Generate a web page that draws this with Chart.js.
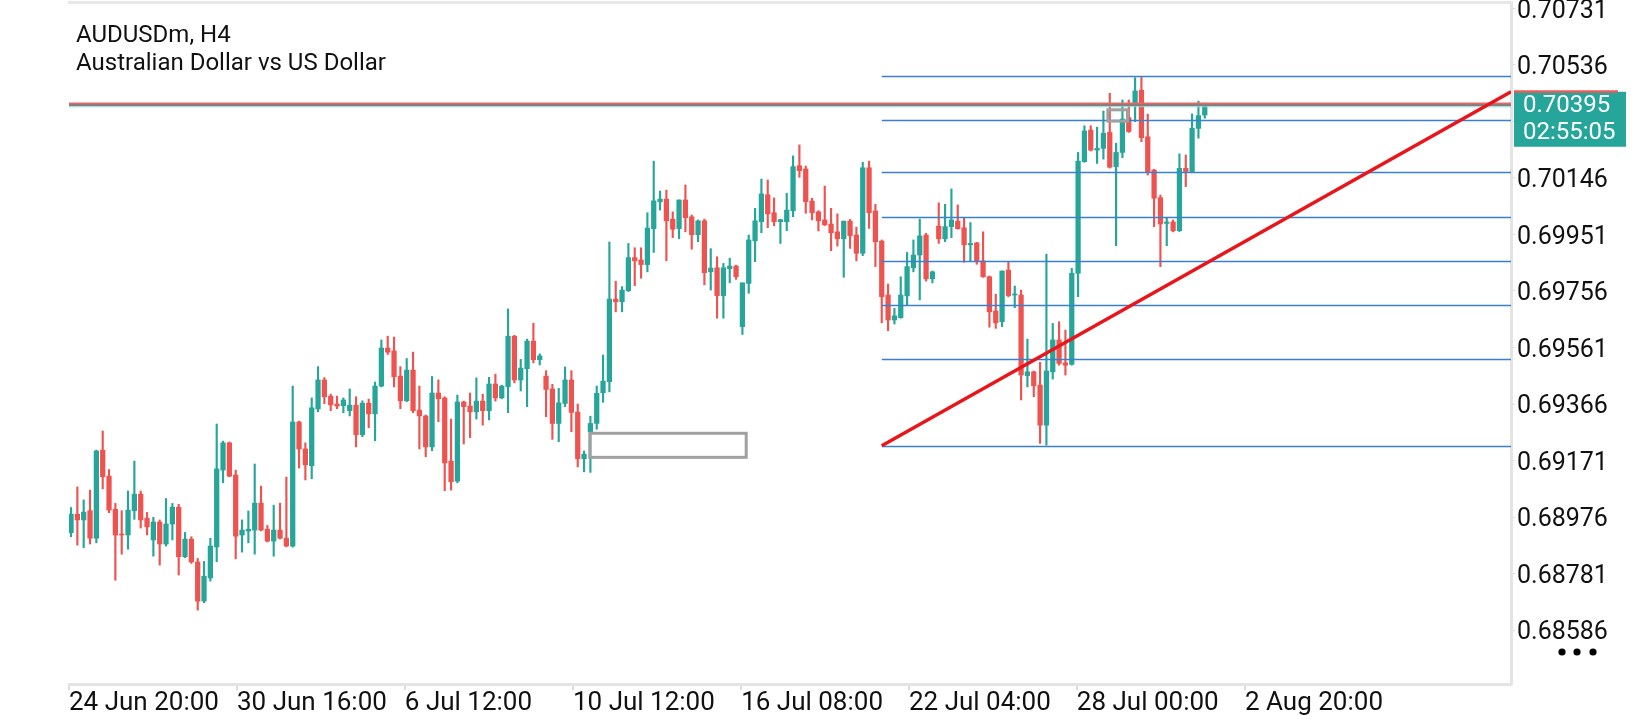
<!DOCTYPE html>
<html>
<head>
<meta charset="utf-8">
<title>AUDUSDm, H4</title>
<script src="https://cdn.jsdelivr.net/npm/chart.js@4.4.1/dist/chart.umd.min.js"></script>
<style>
  html, body { margin: 0; padding: 0; background: #fff; }
  #wrap { position: relative; width: 1640px; height: 720px; }
</style>
</head>
<body>
<div id="wrap"><canvas id="audChart"></canvas></div>
<script>
// AUDUSDm H4 candles (oldest first)
const open = [
  0.68922,0.68986,0.68966,0.68998,0.68903,0.69207,0.69117,0.69003,0.68916,0.68914,
  0.68998,0.69055,0.68972,0.68897,0.68959,0.68883,0.68952,0.69010,0.68839,0.68900,
  0.68821,0.68686,0.68766,0.68873,0.69138,0.69232,0.69121,0.68914,0.68928,0.68931,
  0.69024,0.68934,0.68893,0.68931,0.68903,0.68876,0.69304,0.69211,0.69153,0.69349,
  0.69449,0.69393,0.69366,0.69360,0.69343,0.69362,0.69260,0.69369,0.69332,0.69428,
  0.69559,0.69549,0.69462,0.69377,0.69483,0.69345,0.69325,0.69218,0.69404,0.69387,
  0.69169,0.69100,0.69373,0.69359,0.69339,0.69376,0.69343,0.69435,0.69387,0.69426,
  0.69600,0.69449,0.69488,0.69583,0.69519,0.69462,0.69418,0.69299,0.69368,0.69449,
  0.69338,0.69177,0.69270,0.69299,0.69405,0.69443,0.69728,0.69719,0.69757,0.69871,
  0.69863,0.69847,0.69971,0.70064,0.70073,0.70004,0.69971,0.70070,0.70012,0.69950,
  0.69998,0.69822,0.69836,0.69740,0.69833,0.69842,0.69633,0.69782,0.69929,0.69995,
  0.70088,0.70026,0.69995,0.69995,0.70033,0.70188,0.70177,0.70066,0.70029,0.70001,
  0.69987,0.69960,0.69936,0.69997,0.69949,0.69886,0.70181,0.70032,0.69928,0.69742,
  0.69656,0.69664,0.69739,0.69836,0.69880,0.69949,0.69798,0.69980,0.69936,0.69978,
  0.69997,0.69974,0.69915,0.69922,0.69860,0.69805,0.69687,0.69650,0.69828,0.69742,
  0.69742,0.69464,0.69477,0.69431,0.69293,0.69477,0.69587,0.69508,0.69503,0.69817,
  0.70202,0.70311,0.70242,0.70248,0.70303,0.70185,0.70234,0.70354,0.70404,0.70449,
  0.70288,0.70173,0.70078,0.69989,0.69994,0.69964,0.70179,0.70168,0.70317,0.70363
];
const high = [
  0.69009,0.69080,0.69035,0.69069,0.69207,0.69273,0.69140,0.69023,0.68998,0.69066,
  0.69169,0.69066,0.68992,0.68975,0.68966,0.69040,0.69023,0.69020,0.68923,0.68908,
  0.68833,0.68823,0.68903,0.69297,0.69238,0.69235,0.69138,0.68966,0.68997,0.69159,
  0.69083,0.68947,0.69017,0.69024,0.69114,0.69428,0.69307,0.69232,0.69387,0.69495,
  0.69457,0.69400,0.69393,0.69387,0.69418,0.69391,0.69377,0.69383,0.69442,0.69587,
  0.69600,0.69597,0.69495,0.69523,0.69545,0.69428,0.69328,0.69461,0.69449,0.69391,
  0.69314,0.69397,0.69376,0.69404,0.69456,0.69400,0.69458,0.69469,0.69431,0.69694,
  0.69603,0.69520,0.69590,0.69645,0.69539,0.69481,0.69434,0.69420,0.69494,0.69481,
  0.69366,0.69204,0.69324,0.69428,0.69535,0.69925,0.69790,0.69771,0.69920,0.69905,
  0.69905,0.70026,0.70204,0.70101,0.70104,0.70029,0.70070,0.70122,0.70018,0.70001,
  0.70004,0.69902,0.69874,0.69851,0.69869,0.69845,0.69784,0.69949,0.70041,0.70142,
  0.70139,0.70077,0.70004,0.70093,0.70222,0.70260,0.70187,0.70076,0.70033,0.70118,
  0.70041,0.70022,0.69997,0.70003,0.69976,0.70200,0.70204,0.70055,0.69932,0.69780,
  0.69696,0.69805,0.69889,0.69932,0.70004,0.69955,0.69825,0.70060,0.70055,0.70108,
  0.70053,0.70009,0.69992,0.69924,0.69960,0.69808,0.69745,0.69825,0.69857,0.69773,
  0.69759,0.69590,0.69480,0.69510,0.69883,0.69644,0.69650,0.69621,0.69834,0.70234,
  0.70326,0.70326,0.70321,0.70377,0.70438,0.70266,0.70415,0.70415,0.70492,0.70495,
  0.70366,0.70176,0.70087,0.70009,0.70001,0.70229,0.70225,0.70367,0.70411,0.70404
];
const low = [
  0.68908,0.68879,0.68870,0.68883,0.68887,0.69073,0.68991,0.68758,0.68848,0.68865,
  0.68968,0.68938,0.68914,0.68841,0.68810,0.68876,0.68897,0.68776,0.68836,0.68816,
  0.68655,0.68680,0.68755,0.68822,0.69094,0.69115,0.68832,0.68855,0.68887,0.68848,
  0.68928,0.68890,0.68841,0.68900,0.68873,0.68872,0.69145,0.69104,0.69108,0.69339,
  0.69367,0.69343,0.69350,0.69336,0.69325,0.69218,0.69253,0.69284,0.69239,0.69425,
  0.69537,0.69425,0.69350,0.69374,0.69336,0.69211,0.69184,0.69205,0.69305,0.69067,
  0.69069,0.69094,0.69228,0.69250,0.69314,0.69293,0.69311,0.69376,0.69384,0.69336,
  0.69439,0.69411,0.69357,0.69508,0.69501,0.69322,0.69244,0.69236,0.69357,0.69270,
  0.69149,0.69132,0.69130,0.69279,0.69372,0.69408,0.69684,0.69684,0.69754,0.69774,
  0.69800,0.69822,0.69889,0.70035,0.69860,0.69940,0.69936,0.69960,0.69900,0.69926,
  0.69777,0.69759,0.69662,0.69662,0.69784,0.69796,0.69606,0.69748,0.69857,0.69957,
  0.69974,0.69981,0.69920,0.69964,0.70012,0.70148,0.70024,0.70001,0.69963,0.69982,
  0.69895,0.69911,0.69803,0.69903,0.69860,0.69878,0.69972,0.69840,0.69646,0.69619,
  0.69642,0.69662,0.69707,0.69822,0.69725,0.69790,0.69784,0.69920,0.69926,0.69940,
  0.69969,0.69855,0.69860,0.69848,0.69803,0.69631,0.69627,0.69633,0.69736,0.69698,
  0.69380,0.69425,0.69391,0.69230,0.69224,0.69452,0.69500,0.69466,0.69500,0.69736,
  0.70200,0.70239,0.70196,0.70211,0.70180,0.69912,0.70216,0.70303,0.70340,0.70271,
  0.70156,0.69978,0.69840,0.69912,0.69960,0.69961,0.70116,0.70165,0.70283,0.70352
];
const close = [
  0.68986,0.68966,0.68993,0.68903,0.69204,0.69115,0.69000,0.68914,0.68914,0.69000,
  0.69055,0.68966,0.68942,0.68959,0.68883,0.68952,0.69010,0.68839,0.68900,0.68821,
  0.68686,0.68772,0.68876,0.69142,0.69232,0.69117,0.68910,0.68931,0.68934,0.69024,
  0.68931,0.68893,0.68931,0.68903,0.68876,0.69304,0.69211,0.69156,0.69353,0.69449,
  0.69391,0.69363,0.69359,0.69380,0.69362,0.69260,0.69369,0.69332,0.69428,0.69559,
  0.69545,0.69460,0.69377,0.69483,0.69343,0.69325,0.69218,0.69404,0.69384,0.69163,
  0.69098,0.69373,0.69357,0.69339,0.69376,0.69343,0.69435,0.69387,0.69428,0.69600,
  0.69449,0.69490,0.69583,0.69519,0.69532,0.69416,0.69299,0.69370,0.69449,0.69337,
  0.69177,0.69193,0.69299,0.69403,0.69445,0.69728,0.69719,0.69759,0.69871,0.69860,
  0.69847,0.69973,0.70067,0.70073,0.69998,0.69969,0.70070,0.70009,0.69950,0.69998,
  0.69819,0.69835,0.69740,0.69836,0.69842,0.69805,0.69784,0.69932,0.69998,0.70091,
  0.70022,0.69995,0.70002,0.70035,0.70185,0.70171,0.70064,0.70026,0.69998,0.69984,
  0.69957,0.69936,0.69997,0.69947,0.69886,0.70181,0.70026,0.69926,0.69736,0.69656,
  0.69670,0.69742,0.69840,0.69880,0.69946,0.69798,0.69822,0.69936,0.69978,0.70001,
  0.69971,0.69915,0.69920,0.69860,0.69805,0.69684,0.69646,0.69825,0.69740,0.69742,
  0.69466,0.69477,0.69429,0.69293,0.69480,0.69587,0.69506,0.69500,0.69817,0.70204,
  0.70308,0.70242,0.70248,0.70300,0.70183,0.70234,0.70349,0.70306,0.70446,0.70285,
  0.70165,0.70076,0.69987,0.69994,0.69964,0.70179,0.70168,0.70317,0.70361,0.70395
];

// time axis: bar index of each label and its text
const xTickPos = [-0.32, 26.2, 52.7, 79.25, 105.8, 132.3, 158.8, 185.35];
const xTickLabels = ['24 Jun 20:00', '30 Jun 16:00', '6 Jul 12:00', '10 Jul 12:00',
                     '16 Jul 08:00', '22 Jul 04:00', '28 Jul 00:00', '2 Aug 20:00'];
const xMin = -0.32, xMax = 227.35;

// price axis
const yTicks = [0.68586, 0.68781, 0.68976, 0.69171, 0.69366, 0.69561,
                0.69756, 0.69951, 0.70146, 0.70341, 0.70536, 0.70731];
const yMin = 0.68400, yMax = 0.70753;

// objects on the chart
const fibStart = 128;
const fibLevels = [0.70498, 0.70346, 0.70166, 0.70010, 0.69860, 0.69708, 0.69521, 0.69222];
const trendFrom = [128, 0.69222];
const trendTo = [227.35, 0.70443];
const boxes = [[81.9, 106.6, 0.69265, 0.69182], [163.7, 166.8, 0.70381, 0.70342]]; // x0, x1, top, bottom
const lastPrice = 0.70395;
const countdown = '02:55:05';
const symbolTitle = 'AUDUSDm, H4';
const symbolName = 'Australian Dollar vs US Dollar';

const upColor = '#26a69a';
const downColor = '#ef5350';

const idx = open.map((_, i) => i);
const candleColor = idx.map(i => close[i] >= open[i] ? upColor : downColor);

const overlays = {
  id: 'overlays',
  beforeDraw(chart) {
    // price labels sit a touch lower than Chart.js puts them
    chart.scales.y.getLabelItems().forEach(it => { it.options.translation[1] += 3; });
  },
  afterDatasetsDraw(chart) {
    const { ctx, chartArea: a, scales: { x, y } } = chart;
    ctx.save();
    ctx.beginPath();
    ctx.rect(a.left, a.top, a.right - a.left, a.bottom - a.top);
    ctx.clip();

    // current price lines
    const py = y.getPixelForValue(lastPrice);
    ctx.lineWidth = 1.5; ctx.strokeStyle = '#e06a6a';
    ctx.beginPath(); ctx.moveTo(a.left, py - 2.5); ctx.lineTo(a.right, py - 2.5); ctx.stroke();
    ctx.lineWidth = 2; ctx.strokeStyle = '#8c7c7c';
    ctx.beginPath(); ctx.moveTo(a.left, py - 0.8); ctx.lineTo(a.right, py - 0.8); ctx.stroke();
    ctx.lineWidth = 1; ctx.strokeStyle = '#8fd3cc';
    ctx.beginPath(); ctx.moveTo(a.left, py + 1); ctx.lineTo(a.right, py + 1); ctx.stroke();

    // fibo levels
    ctx.lineWidth = 1.4; ctx.strokeStyle = '#3a80d0';
    const fx = x.getPixelForValue(fibStart);
    fibLevels.forEach(v => {
      const ly = Math.round(y.getPixelForValue(v)) + 0.5;
      ctx.beginPath(); ctx.moveTo(fx, ly); ctx.lineTo(a.right, ly); ctx.stroke();
    });

    // rectangles
    ctx.lineWidth = 3; ctx.strokeStyle = '#a0a0a0';
    boxes.forEach(b => {
      const x0 = x.getPixelForValue(b[0]), x1 = x.getPixelForValue(b[1]);
      const y0 = y.getPixelForValue(b[2]), y1 = y.getPixelForValue(b[3]);
      ctx.strokeRect(x0, y0, x1 - x0, y1 - y0);
    });

    // trend line
    ctx.lineWidth = 3.4; ctx.strokeStyle = '#e8161a';
    ctx.beginPath();
    ctx.moveTo(x.getPixelForValue(trendFrom[0]), y.getPixelForValue(trendFrom[1]));
    ctx.lineTo(x.getPixelForValue(trendTo[0]), y.getPixelForValue(trendTo[1]));
    ctx.stroke();
    ctx.restore();
  },
  afterDraw(chart) {
    const { ctx, chartArea: a, scales: { y } } = chart;
    ctx.save();
    // top frame line
    ctx.fillStyle = '#e8e8e8';
    ctx.fillRect(a.left - 1, 1, a.right - a.left + 2, 3);

    // price label on the axis
    const py = y.getPixelForValue(lastPrice);
    ctx.fillStyle = '#26a69a';
    ctx.fillRect(a.right + 3, py - 14, 112, 55);
    ctx.fillStyle = '#e85c5c';
    ctx.fillRect(a.right + 3, py - 15.5, 104, 2.5);
    ctx.fillStyle = '#ffffff';
    ctx.font = '24px Roboto';
    ctx.textAlign = 'left';
    ctx.textBaseline = 'middle';
    ctx.fillText(lastPrice.toFixed(5), a.right + 12, py);
    ctx.fillText(countdown, a.right + 12, py + 27.5);

    // symbol title
    ctx.fillStyle = '#111111';
    ctx.font = '24px Roboto';
    ctx.textBaseline = 'alphabetic';
    ctx.fillText(symbolTitle, 76, 42);
    ctx.fillText(symbolName, 76, 70);

    // menu dots
    ctx.fillStyle = '#000000';
    [1562, 1577, 1593].forEach(cx => {
      ctx.beginPath(); ctx.arc(cx, 652, 3.6, 0, Math.PI * 2); ctx.fill();
    });
    ctx.restore();
  }
};

new Chart(document.getElementById('audChart'), {
  type: 'bar',
  data: {
    datasets: [
      {
        label: 'wick',
        data: idx.map(i => ({ x: i, y: [low[i], high[i]] })),
        backgroundColor: candleColor,
        barThickness: 1.5,
        grouped: false,
        order: 2
      },
      {
        label: 'body',
        data: idx.map(i => ({ x: i, y: [open[i], close[i]] })),
        backgroundColor: candleColor,
        barThickness: 4.6,
        minBarLength: 1,
        grouped: false,
        order: 1
      }
    ]
  },
  options: {
    responsive: true,
    maintainAspectRatio: false,
    animation: false,
    layout: { padding: { left: 69, top: 2, right: 0, bottom: 0 } },
    plugins: { legend: { display: false }, tooltip: { enabled: false } },
    scales: {
      x: {
        type: 'linear',
        min: xMin,
        max: xMax,
        offset: false,
        grid: { offset: false, drawOnChartArea: false, tickLength: 6, color: '#dcdcdc', lineWidth: 2 },
        border: { color: '#e4e4e4', width: 3 },
        ticks: {
          autoSkip: false,
          maxRotation: 0,
          align: 'start',
          padding: 0,
          color: '#111111',
          font: { family: 'Roboto', size: 26, lineHeight: 1 },
          callback: (v, i) => xTickLabels[i]
        },
        afterBuildTicks: s => { s.ticks = xTickPos.map(v => ({ value: v })); },
        afterFit: s => { s.height = 36; s.paddingLeft = 0; s.paddingRight = 0; }
      },
      y: {
        position: 'right',
        min: yMin,
        max: yMax,
        grid: { drawOnChartArea: false, tickLength: 4, color: '#dcdcdc' },
        border: { color: '#e4e4e4', width: 3 },
        ticks: {
          autoSkip: false,
          padding: 2,
          color: '#111111',
          font: { family: 'Roboto', size: 25 },
          callback: v => v.toFixed(5)
        },
        afterBuildTicks: s => { s.ticks = yTicks.map(v => ({ value: v })); },
        afterFit: s => { s.width = 129; s.paddingTop = 0; s.paddingBottom = 0; }
      }
    }
  },
  plugins: [overlays]
});
</script>
</body>
</html>
